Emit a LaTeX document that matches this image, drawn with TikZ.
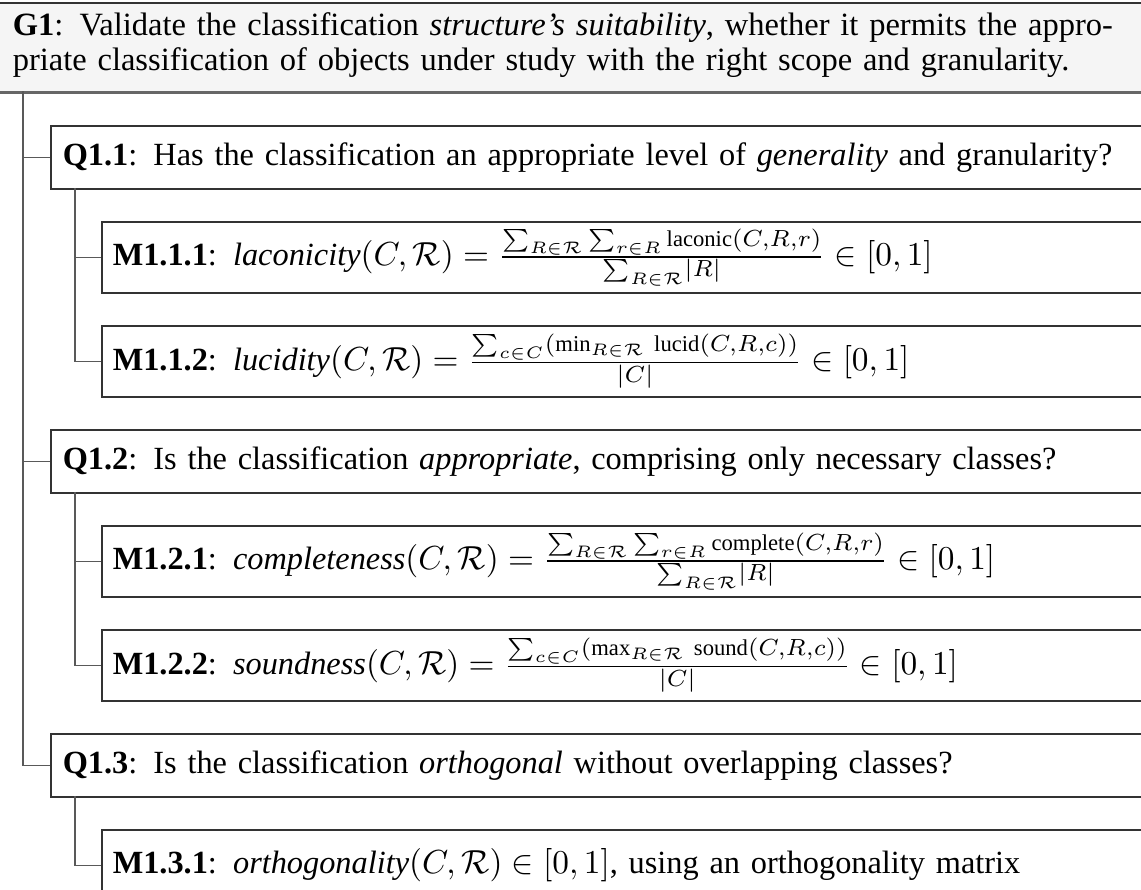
\documentclass[tikz,border=0pt]{standalone}
\usepackage{amsmath}
\usepackage{fontspec}
\setmainfont{Liberation Serif}
\begin{document}
\begin{tikzpicture}[x=0.3pt,y=-0.3pt]
	\tikzset{goalbox/.style={draw=black!80, line width=0.45pt, fill=black!4, anchor=north west, inner xsep=4.2pt, inner ysep=0pt, text width=420pt, minimum height=26.7pt, align=left, font=\fontsize{9.75}{10.5}\selectfont}}
	\tikzset{qbox/.style={draw=black!80, line width=0.45pt, anchor=north west, inner xsep=3.6pt, inner ysep=0pt, text width=380pt, minimum height=18.9pt, align=left, font=\fontsize{9.7}{10.5}\selectfont}}
	\tikzset{mbox/.style={qbox, inner xsep=3.3pt, minimum height=21.3pt}}
	\tikzset{link/.style={draw=black!65, line width=0.45pt}}
	\useasboundingbox (0,0) rectangle (1141,889);
	\clip (0,0) rectangle (1141,889);
	\node[goalbox] (g1) at (-2,2) {\textbf{G1}: Validate the classification \emph{structure’s suitability}, whether it permits the appro-\\priate classification of objects under study with the right scope and granularity.\vspace{1.2pt}};
	\draw[draw=black!60, line width=0.7pt] (g1.south west) -- (g1.south east);
	\node[qbox] (q11) at (50,125) {\textbf{Q1.1}: Has the classification an appropriate level of \emph{generality} and granularity?};
	\node[mbox] (m111) at (101,221) {\textbf{M1.1.1}:\enspace $\mathit{laconicity}(C,\mathcal{R}) = \frac{\sum_{R\in\mathcal{R}}\sum_{r\in R}\mathrm{laconic}(C,R,r)}{\sum_{R\in\mathcal{R}}\!|R|} \in [0,1]$};
	\node[mbox] (m112) at (101,325) {\textbf{M1.1.2}:\enspace $\mathit{lucidity}(C,\mathcal{R}) = \frac{\sum_{c\in C}(\min_{R\in\mathcal{R}}\,\mathrm{lucid}(C,R,c))}{|C|} \in [0,1]$};
	\node[qbox] (q12) at (50,429) {\textbf{Q1.2}: Is the classification \emph{appropriate}, comprising only necessary classes?};
	\node[mbox] (m121) at (101,525) {\textbf{M1.2.1}:\enspace $\mathit{completeness}(C,\mathcal{R}) = \frac{\sum_{R\in\mathcal{R}}\sum_{r\in R}\mathrm{complete}(C,R,r)}{\sum_{R\in\mathcal{R}}\!|R|} \in [0,1]$};
	\node[mbox] (m122) at (101,629) {\textbf{M1.2.2}:\enspace $\mathit{soundness}(C,\mathcal{R}) = \frac{\sum_{c\in C}(\max_{R\in\mathcal{R}}\,\mathrm{sound}(C,R,c))}{|C|} \in [0,1]$};
	\node[qbox] (q13) at (50,733) {\textbf{Q1.3}: Is the classification \emph{orthogonal} without overlapping classes?};
	\node[mbox] (m131) at (101,829) {\textbf{M1.3.1}:\enspace $\mathit{orthogonality}(C,\mathcal{R}) \in [0,1]$, using an orthogonality matrix};
	% goal to questions
	\coordinate (gtrunk) at (23,91);
	\draw[link] (gtrunk) |- (q13.west);
	\draw[link] (gtrunk |- q11.west) -- (q11.west);
	\draw[link] (gtrunk |- q12.west) -- (q12.west);
	% questions to metrics
	\coordinate (q11b) at (75,188);
	\coordinate (q12b) at (75,492);
	\coordinate (q13b) at (75,796);
	\draw[link] (q11b) |- (m112.west);
	\draw[link] (q11b |- m111.west) -- (m111.west);
	\draw[link] (q12b) |- (m122.west);
	\draw[link] (q12b |- m121.west) -- (m121.west);
	\draw[link] (q13b) |- (m131.west);
\end{tikzpicture}
\end{document}
